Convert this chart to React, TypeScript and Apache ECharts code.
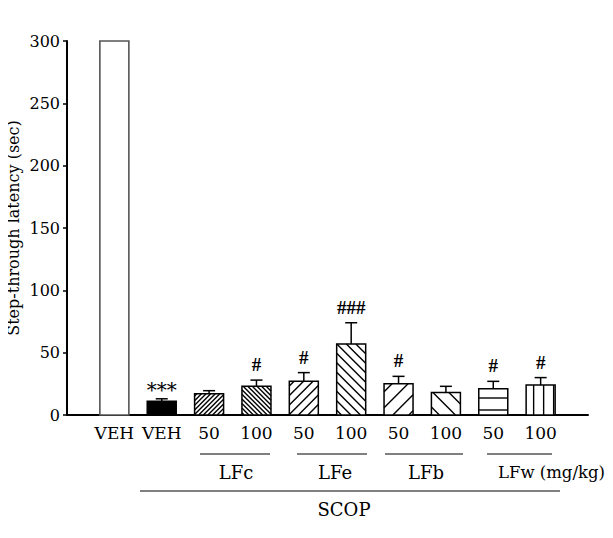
import React, { useEffect, useRef } from "react";
import * as echarts from "echarts";

// Step-through latency per treatment group (mean ± SEM, seconds)
const categories = ["VEH", "VEH", "50", "100", "50", "100", "50", "100", "50", "100"];
const means = [300, 11, 17, 23, 27, 57, 25, 18, 21, 24];
const sems = [0, 2, 2.5, 5, 7, 17, 6, 5, 6, 6];
const marks = ["", "***", "", "#", "#", "###", "#", "", "#", "#"];
const yTicks = [0, 50, 100, 150, 200, 250, 300];
const yTitle = "Step-through latency (sec)";
const extractGroups = ["LFc", "LFe", "LFb", "LFw (mg/kg)"];
const treatmentLabel = "SCOP";

const FONT = "DejaVu Serif";

type Pattern =
  | { kind: "open" }
  | { kind: "solid" }
  | { kind: "fwd"; step: number }
  | { kind: "back"; step: number }
  | { kind: "hline"; step: number; offset: number }
  | { kind: "vline"; step: number; offset: number };

const patterns: Pattern[] = [
  { kind: "open" },
  { kind: "solid" },
  { kind: "fwd", step: 4.6 },
  { kind: "back", step: 4.6 },
  { kind: "fwd", step: 9.5 },
  { kind: "back", step: 9.5 },
  { kind: "fwd", step: 16 },
  { kind: "back", step: 16 },
  { kind: "hline", step: 12, offset: 5 },
  { kind: "vline", step: 10, offset: 7.5 },
];

const BAR_W = 29;

function hatchLines(p: Pattern, L: number, R: number, T: number, B: number) {
  const segs: number[][] = [];
  if (p.kind === "fwd") {
    // lines x + y = c
    for (let c = L + T + p.step / 2; c < R + B; c += p.step) {
      const x1 = Math.max(L, c - B);
      const x2 = Math.min(R, c - T);
      if (x2 - x1 > 0.5) segs.push([x1, c - x1, x2, c - x2]);
    }
  } else if (p.kind === "back") {
    // lines x - y = c
    for (let c = L - B + p.step / 2; c < R - T; c += p.step) {
      const x1 = Math.max(L, c + T);
      const x2 = Math.min(R, c + B);
      if (x2 - x1 > 0.5) segs.push([x1, x1 - c, x2, x2 - c]);
    }
  } else if (p.kind === "hline") {
    for (let y = B - p.offset; y > T + 1; y -= p.step) segs.push([L, y, R, y]);
  } else if (p.kind === "vline") {
    for (let x = L + p.offset; x < R - 1; x += p.step) segs.push([x, T, x, B]);
  }
  return segs;
}

export default function App() {
  const ref = useRef<HTMLDivElement>(null);

  useEffect(() => {
    if (!ref.current) return;
    const chart = echarts.init(ref.current, undefined, { renderer: "svg" });

    const barData = means.map((m, i) => [i + 1, m]);
    const errData = means.map((m, i) => [i + 1, m, sems[i]]);

    const groupText = (text: string, x: number, y: number, align: string, size = 18) => ({
      type: "text",
      x,
      y,
      style: {
        text,
        fill: "#000",
        fontFamily: FONT,
        fontSize: size,
        align,
        verticalAlign: "middle",
      },
    });
    const rule = (x1: number, x2: number, y: number) => ({
      type: "line",
      shape: { x1, y1: y, x2, y2: y },
      style: { stroke: "#000", lineWidth: 1 },
    });

    const option: echarts.EChartsCoreOption = {
      animation: false,
      grid: {
        left: 67,
        right: 25,
        top: 41,
        bottom: 123,
        containLabel: false,
        outerBoundsMode: "none",
      },
      xAxis: {
        type: "value",
        min: 0,
        max: categories.length + 1,
        interval: 1,
        splitLine: { show: false },
        axisTick: { show: false },
        axisLine: { show: true, lineStyle: { color: "#000", width: 2 } },
        axisLabel: {
          margin: 9,
          color: "#000",
          fontFamily: FONT,
          fontSize: 17,
          formatter: (v: number) => categories[v - 1] ?? "",
        },
      },
      yAxis: {
        type: "value",
        min: yTicks[0],
        max: yTicks[yTicks.length - 1],
        interval: 50,
        splitLine: { show: false },
        axisLine: { show: true, lineStyle: { color: "#000", width: 2 } },
        axisTick: { show: true, length: 4, lineStyle: { color: "#000", width: 1.5 } },
        axisLabel: { color: "#000", fontFamily: FONT, fontSize: 16, margin: 7 },
      },
      series: [
        {
          type: "custom",
          name: "bars",
          data: barData,
          encode: { x: 0, y: 1 },
          renderItem: (params: any, api: any) => {
            const i = params.dataIndex;
            const x = api.value(0);
            const y = api.value(1);
            const [cx, top] = api.coord([x, y]);
            const [, base] = api.coord([x, 0]);
            const L = cx - BAR_W / 2;
            const R = cx + BAR_W / 2;
            const p = patterns[i];
            const children: any[] = [];
            const open = p.kind === "open";
            children.push({
              type: "rect",
              shape: { x: L, y: top, width: BAR_W, height: base - top },
              style: {
                fill: p.kind === "solid" ? "#000" : "#fff",
                stroke: open ? "#555" : "#000",
                lineWidth: open ? 1.6 : 1.5,
              },
            });
            hatchLines(p, L, R, top, base).forEach((s) => {
              children.push({
                type: "line",
                shape: { x1: s[0], y1: s[1], x2: s[2], y2: s[3] },
                style: { stroke: "#000", lineWidth: 1.4 },
              });
            });
            return { type: "group", children };
          },
          z: 2,
        },
        {
          type: "custom",
          name: "sem",
          data: errData,
          encode: { x: 0, y: 1 },
          renderItem: (params: any, api: any) => {
            const i = params.dataIndex;
            const x = api.value(0);
            const m = api.value(1);
            const e = api.value(2);
            const [cx, top] = api.coord([x, m]);
            const [, errTop] = api.coord([x, m + e]);
            const children: any[] = [];
            if (e > 0) {
              children.push({
                type: "line",
                shape: { x1: cx, y1: top, x2: cx, y2: errTop },
                style: { stroke: "#000", lineWidth: 1.5 },
              });
              children.push({
                type: "line",
                shape: { x1: cx - 6, y1: errTop, x2: cx + 6, y2: errTop },
                style: { stroke: "#000", lineWidth: 1.5 },
              });
            }
            const mk = marks[i];
            if (mk) {
              const star = mk.indexOf("*") >= 0;
              children.push({
                type: "text",
                x: cx,
                y: star ? errTop + 1 : errTop - 6,
                style: {
                  text: mk,
                  fill: "#000",
                  fontFamily: star ? FONT : "Liberation Serif",
                  fontWeight: star ? "normal" : "bold",
                  fontSize: star ? 20 : 19,
                  align: "center",
                  verticalAlign: "bottom",
                },
              });
            }
            return { type: "group", children };
          },
          z: 3,
        },
      ],
      graphic: [
        {
          type: "text",
          x: 13,
          y: 228,
          rotation: Math.PI / 2,
          style: {
            text: yTitle,
            fill: "#000",
            fontFamily: FONT,
            fontSize: 16,
            align: "center",
            verticalAlign: "middle",
          },
        },
        rule(200, 270, 454),
        rule(297, 367, 454),
        rule(385, 463, 454),
        rule(487, 552, 454),
        rule(140, 560, 491),
        groupText(extractGroups[0], 236, 472, "center"),
        groupText(extractGroups[1], 335, 472, "center"),
        groupText(extractGroups[2], 426, 472, "center"),
        groupText(extractGroups[3], 498, 472, "left", 16.5),
        groupText(treatmentLabel, 344, 509, "center"),
      ],
    };

    chart.setOption(option);
    return () => chart.dispose();
  }, []);

  return <div ref={ref} style={{ width: 613, height: 538, margin: -8 }} />;
}
